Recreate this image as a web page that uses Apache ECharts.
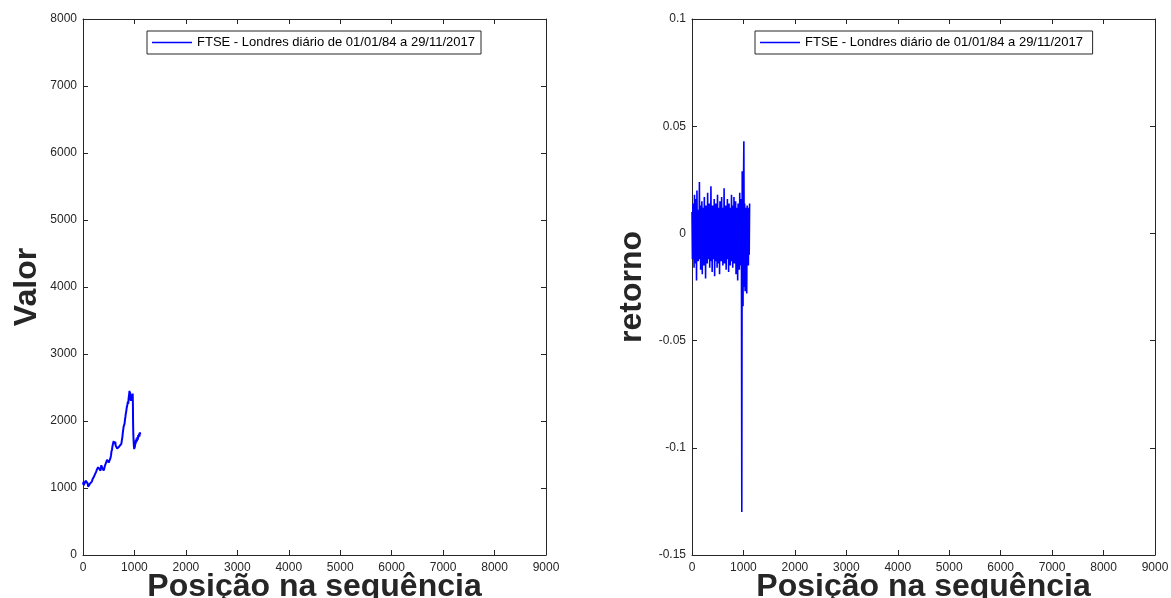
<!DOCTYPE html>
<html>
<head>
<meta charset="utf-8">
<script src="https://cdn.jsdelivr.net/npm/echarts@6/dist/echarts.min.js"></script>
<style>
html,body{margin:0;padding:0;background:#fff;}
#c{width:1171px;height:598px;}
</style>
</head>
<body>
<div id="c"></div>
<script>
// ---- data ----
const legendName = 'FTSE - Londres diário de 01/01/84 a 29/11/2017';
const xTicks = [0,1000,2000,3000,4000,5000,6000,7000,8000,9000];
const valorTicks = [0,1000,2000,3000,4000,5000,6000,7000,8000];
const retornoTicks = [-0.15,-0.1,-0.05,0,0.05,0.1];

// price series: position in sequence, value
const priceX = [0,10,20,30,40,50,60,70,80,90,100,110,120,130,140,150,162,175,185,195,207,218,230,242,255,265,272,283,295,308,320,330,340,348,356,368,380,392,402,414,425,435,445,456,467,478,490,500,512,524,535,545,552,564,572,580,588,596,604,612,620,628,636,645,655,665,675,685,695,705,715,725,735,745,755,765,775,783,791,800,808,816,824,832,840,848,856,864,872,880,888,896,904,910,916,922,930,938,946,954,960,966,970,974,978,984,990,996,1002,1008,1014,1020,1028,1035,1042,1050,1058,1066,1074,1082,1090,1098,1106,1115];
const priceY = [1050,1090,1040,1100,1070,1110,1090,1130,1120,1070,1020,1000,1040,1030,1070,1060,1090,1100,1130,1120,1160,1150,1200,1190,1240,1230,1280,1270,1310,1290,1320,1290,1260,1300,1340,1310,1290,1300,1260,1290,1330,1320,1370,1350,1420,1400,1410,1380,1370,1400,1450,1490,1540,1570,1620,1650,1630,1700,1660,1680,1640,1690,1630,1610,1640,1590,1580,1610,1570,1620,1600,1640,1620,1660,1710,1760,1830,1880,1920,1900,1960,2020,2060,2110,2140,2190,2170,2250,2290,2260,2350,2390,2450,2390,2430,2340,2300,2360,2310,2400,2370,2410,2250,1950,1800,1700,1620,1580,1660,1600,1690,1650,1720,1680,1740,1700,1760,1720,1790,1760,1810,1770,1830,1800];

// returns series: one value every 8 positions (0, 8, 16, ...)
const retStep = 8;
const retY = [
0.010,-0.012,0.014,-0.008,0.012,-0.016,0.018,-0.010,0.008,-0.014,
0.016,-0.022,0.020,-0.009,0.011,-0.013,0.009,-0.011,0.024,-0.012,
0.013,-0.017,0.010,-0.008,0.015,-0.019,0.012,-0.010,0.007,-0.015,
0.017,-0.011,0.009,-0.021,0.013,-0.009,0.011,-0.014,0.019,-0.012,
0.008,-0.010,0.014,-0.016,0.012,-0.008,0.022,-0.013,0.010,-0.018,
0.013,-0.011,0.009,-0.012,0.016,-0.020,0.011,-0.009,0.014,-0.013,
0.010,-0.016,0.018,-0.010,0.012,-0.014,0.009,-0.019,0.015,-0.011,
0.008,-0.013,0.017,-0.010,0.012,-0.015,0.010,-0.012,0.021,-0.014,
0.011,-0.009,0.013,-0.017,0.010,-0.012,0.016,-0.011,0.009,-0.018,
0.014,-0.010,0.012,-0.015,0.011,-0.013,0.018,-0.009,0.010,-0.016,
0.013,-0.011,0.017,-0.014,0.009,-0.012,0.015,-0.019,0.011,-0.010,
0.012,-0.022,0.014,-0.013,0.010,-0.017,0.019,-0.012,0.016,-0.015,
0.012,-0.130,0.029,-0.020,-0.034,0.020,0.043,-0.025,0.014,-0.027,
0.012,-0.018,0.010,-0.028,0.013,-0.014,0.011,-0.015,0.012,-0.010,0.014
];

// ---- build ----
const priceData = priceX.map((x,i)=>[x, priceY[i]]);
const retData = retY.map((v,i)=>[i*retStep, v]);

const AX = '#262626';
const FONT = '"Liberation Sans", Arial, Helvetica, sans-serif';

function fmtNum(v){ return String(Math.round(v*1000)/1000); }

function xAxisPair(gi, name){
  const base = {
    gridIndex: gi, type:'value',
    min: xTicks[0], max: xTicks[xTicks.length-1], interval: xTicks[1]-xTicks[0],
    splitLine:{show:false},
    axisLine:{show:true, onZero:false, lineStyle:{color:AX, width:1}},
    axisTick:{show:true, inside:true, length:5, lineStyle:{color:AX}}
  };
  return [
    Object.assign({}, base, {
      position:'bottom',
      name: name, nameLocation:'middle', nameGap: 16, nameMoveOverlap:false,
      nameTextStyle:{fontFamily:FONT, fontWeight:'bold', fontSize:32, color:AX},
      axisLabel:{show:true, color:AX, fontFamily:FONT, fontSize:12, margin:7, showMinLabel:true, showMaxLabel:true, formatter:fmtNum}
    }),
    Object.assign({}, base, {position:'top', axisLabel:{show:false}})
  ];
}
function yAxisPair(gi, ticks, name, gap){
  const base = {
    gridIndex: gi, type:'value',
    min: ticks[0], max: ticks[ticks.length-1], interval: Math.round((ticks[1]-ticks[0])*1e6)/1e6,
    splitLine:{show:false},
    axisLine:{show:true, onZero:false, lineStyle:{color:AX, width:1}},
    axisTick:{show:true, inside:true, length:5, lineStyle:{color:AX}}
  };
  return [
    Object.assign({}, base, {
      position:'left',
      name: name, nameLocation:'middle', nameGap: gap, nameRotate:90, nameMoveOverlap:false,
      nameTextStyle:{fontFamily:FONT, fontWeight:'bold', fontSize:32, color:AX},
      axisLabel:{show:true, color:AX, fontFamily:FONT, fontSize:12, margin:6, showMinLabel:true, showMaxLabel:true, formatter:fmtNum}
    }),
    Object.assign({}, base, {position:'right', axisLabel:{show:false}})
  ];
}

const legendBase = {
  orient:'horizontal', icon:'rect', itemWidth:40, itemHeight:1.5,
  padding:[5,6,5,5], borderColor:AX, borderWidth:1, backgroundColor:'#fff',
  textStyle:{fontFamily:FONT, fontSize:13, color:'#000'}
};

const option = {
  backgroundColor:'#fff',
  animation:false,
  grid:[
    {left:83, right:625, top:19, bottom:43, outerBoundsMode:'none', containLabel:false},
    {left:692, right:16, top:19, bottom:43, outerBoundsMode:'none', containLabel:false}
  ],
  xAxis: [].concat(xAxisPair(0,'Posição na sequência'), xAxisPair(1,'Posição na sequência')),
  yAxis: [].concat(yAxisPair(0, valorTicks, 'Valor', 40), yAxisPair(1, retornoTicks, 'retorno', 44)),
  legend:[
    Object.assign({}, legendBase, {left:147, top:31, data:[{name:legendName}]}),
    Object.assign({}, legendBase, {left:755, top:31, data:[{name:legendName+' '}]})
  ],
  series:[
    {name:legendName, type:'line', xAxisIndex:0, yAxisIndex:0, data:priceData,
     symbol:'none', lineStyle:{color:'#0000ff', width:2}, itemStyle:{color:'#0000ff'}},
    {name:legendName+' ', type:'line', xAxisIndex:2, yAxisIndex:2, data:retData,
     symbol:'none', lineStyle:{color:'#0000ff', width:1.6}, itemStyle:{color:'#0000ff'}}
  ]
};
const chart = echarts.init(document.getElementById('c'), null, {renderer:'canvas'});
chart.setOption(option);
</script>
</body>
</html>
